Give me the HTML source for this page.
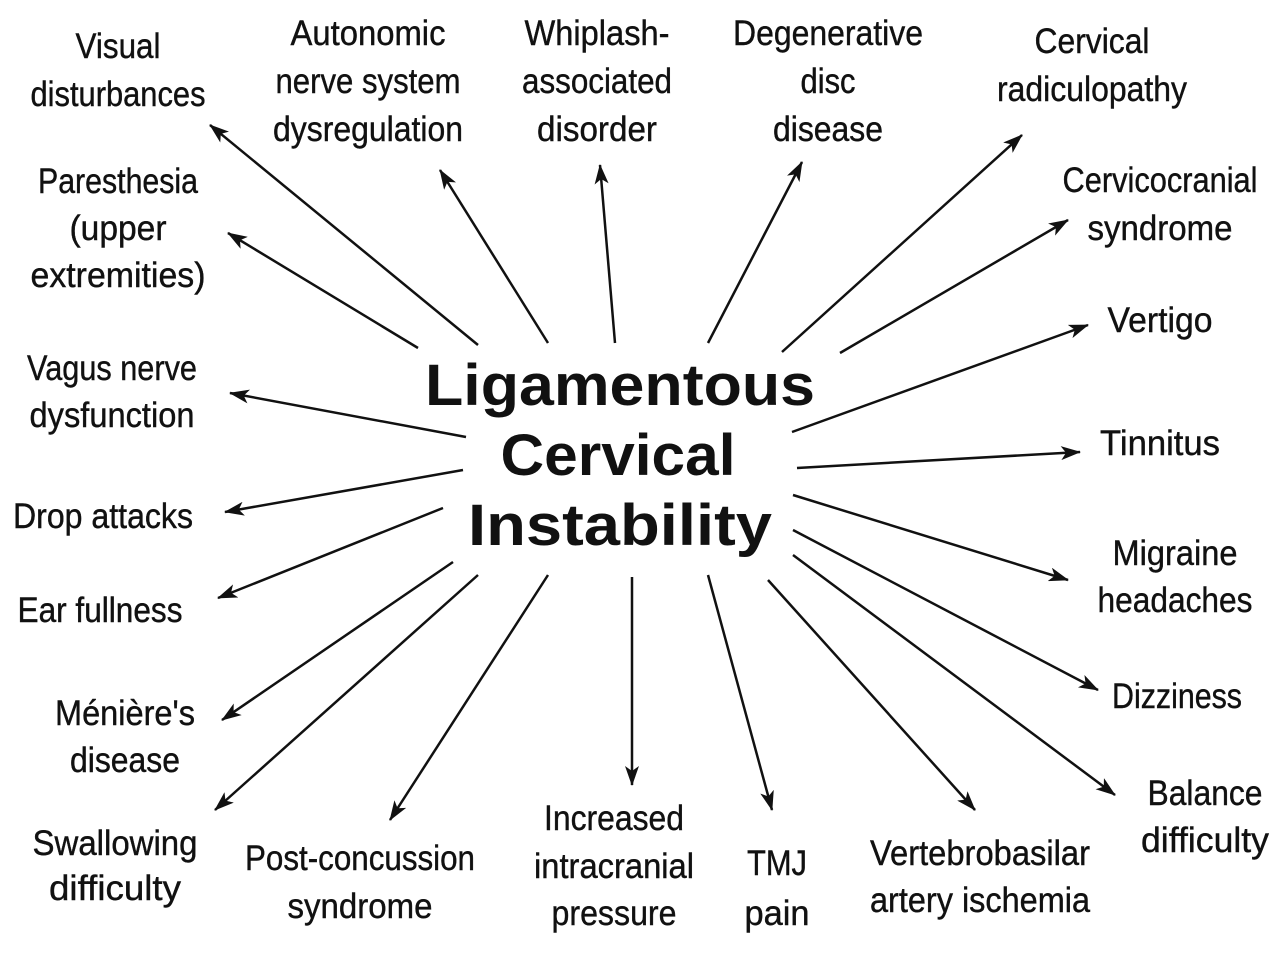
<!DOCTYPE html>
<html><head><meta charset="utf-8"><style>
html,body{margin:0;padding:0;background:#fff;}
svg text{font-family:"Liberation Sans Narrow","Liberation Sans",sans-serif;font-size:35px;fill:#111;stroke:#111;stroke-width:0.4px;}
svg text.t{font-family:"Liberation Sans",sans-serif;font-weight:bold;font-size:58px;stroke:none;}
</style></head><body>
<svg width="1280" height="951" viewBox="0 0 1280 951" xmlns="http://www.w3.org/2000/svg">
<defs>
<marker id="b" viewBox="0 0 20 14" refX="19" refY="7" markerWidth="20" markerHeight="14" markerUnits="userSpaceOnUse" orient="auto"><path d="M0,0 L20,7 L0,14 L5,7 z" fill="#111"/></marker></defs>
<g stroke="#111" stroke-width="2.5" marker-end="url(#b)">
<line x1="478" y1="345" x2="210" y2="125"/>
<line x1="418" y1="348" x2="228" y2="233"/>
<line x1="548" y1="343" x2="440" y2="170"/>
<line x1="615" y1="343" x2="600" y2="165"/>
<line x1="708" y1="343" x2="802" y2="162"/>
<line x1="782" y1="352" x2="1022" y2="135"/>
<line x1="840" y1="353" x2="1068" y2="220"/>
<line x1="792" y1="432" x2="1088" y2="325"/>
<line x1="797" y1="468" x2="1080" y2="452"/>
<line x1="793" y1="495" x2="1068" y2="580"/>
<line x1="793" y1="530" x2="1098" y2="690"/>
<line x1="793" y1="555" x2="1115" y2="795"/>
<line x1="768" y1="580" x2="975" y2="810"/>
<line x1="708" y1="575" x2="772" y2="810"/>
<line x1="632" y1="577" x2="632" y2="785"/>
<line x1="548" y1="575" x2="390" y2="820"/>
<line x1="478" y1="575" x2="215" y2="810"/>
<line x1="453" y1="562" x2="222" y2="720"/>
<line x1="443" y1="508" x2="218" y2="598"/>
<line x1="463" y1="470" x2="225" y2="512"/>
<line x1="466" y1="437" x2="230" y2="393"/>
</g>
<g text-anchor="middle">
<text class="t" x="620" y="405" textLength="390" lengthAdjust="spacingAndGlyphs">Ligamentous</text>
<text class="t" x="618" y="475" textLength="235" lengthAdjust="spacingAndGlyphs">Cervical</text>
<text class="t" x="620" y="545" textLength="304" lengthAdjust="spacingAndGlyphs">Instability</text>

<text x="118" y="58" textLength="85" lengthAdjust="spacingAndGlyphs">Visual</text>
<text x="118" y="106" textLength="175" lengthAdjust="spacingAndGlyphs">disturbances</text>
<text x="368" y="45" textLength="155" lengthAdjust="spacingAndGlyphs">Autonomic</text>
<text x="368" y="93" textLength="185" lengthAdjust="spacingAndGlyphs">nerve system</text>
<text x="368" y="141" textLength="190" lengthAdjust="spacingAndGlyphs">dysregulation</text>
<text x="597" y="45" textLength="145" lengthAdjust="spacingAndGlyphs">Whiplash-</text>
<text x="597" y="93" textLength="150" lengthAdjust="spacingAndGlyphs">associated</text>
<text x="597" y="141" textLength="120" lengthAdjust="spacingAndGlyphs">disorder</text>
<text x="828" y="45" textLength="190" lengthAdjust="spacingAndGlyphs">Degenerative</text>
<text x="828" y="93" textLength="55" lengthAdjust="spacingAndGlyphs">disc</text>
<text x="828" y="141" textLength="110" lengthAdjust="spacingAndGlyphs">disease</text>
<text x="1092" y="53" textLength="115" lengthAdjust="spacingAndGlyphs">Cervical</text>
<text x="1092" y="101" textLength="190" lengthAdjust="spacingAndGlyphs">radiculopathy</text>
<text x="1160" y="192" textLength="195" lengthAdjust="spacingAndGlyphs">Cervicocranial</text>
<text x="1160" y="240" textLength="145" lengthAdjust="spacingAndGlyphs">syndrome</text>
<text x="1160" y="332" textLength="105" lengthAdjust="spacingAndGlyphs">Vertigo</text>
<text x="1160" y="455" textLength="120" lengthAdjust="spacingAndGlyphs">Tinnitus</text>
<text x="1175" y="565" textLength="125" lengthAdjust="spacingAndGlyphs">Migraine</text>
<text x="1175" y="612" textLength="155" lengthAdjust="spacingAndGlyphs">headaches</text>
<text x="1177" y="708" textLength="130" lengthAdjust="spacingAndGlyphs">Dizziness</text>
<text x="1205" y="805" textLength="115" lengthAdjust="spacingAndGlyphs">Balance</text>
<text x="1205" y="852" textLength="128" lengthAdjust="spacingAndGlyphs">difficulty</text>
<text x="980" y="865" textLength="220" lengthAdjust="spacingAndGlyphs">Vertebrobasilar</text>
<text x="980" y="912" textLength="220" lengthAdjust="spacingAndGlyphs">artery ischemia</text>
<text x="777" y="875" textLength="60" lengthAdjust="spacingAndGlyphs">TMJ</text>
<text x="777" y="925" textLength="65" lengthAdjust="spacingAndGlyphs">pain</text>
<text x="614" y="830" textLength="140" lengthAdjust="spacingAndGlyphs">Increased</text>
<text x="614" y="878" textLength="160" lengthAdjust="spacingAndGlyphs">intracranial</text>
<text x="614" y="925" textLength="125" lengthAdjust="spacingAndGlyphs">pressure</text>
<text x="360" y="870" textLength="230" lengthAdjust="spacingAndGlyphs">Post-concussion</text>
<text x="360" y="918" textLength="145" lengthAdjust="spacingAndGlyphs">syndrome</text>
<text x="115" y="855" textLength="165" lengthAdjust="spacingAndGlyphs">Swallowing</text>
<text x="115" y="900" textLength="132" lengthAdjust="spacingAndGlyphs">difficulty</text>
<text x="125" y="725" textLength="140" lengthAdjust="spacingAndGlyphs">Ménière's</text>
<text x="125" y="772" textLength="110" lengthAdjust="spacingAndGlyphs">disease</text>
<text x="100" y="622" textLength="165" lengthAdjust="spacingAndGlyphs">Ear fullness</text>
<text x="103" y="528" textLength="180" lengthAdjust="spacingAndGlyphs">Drop attacks</text>
<text x="112" y="380" textLength="170" lengthAdjust="spacingAndGlyphs">Vagus nerve</text>
<text x="112" y="427" textLength="165" lengthAdjust="spacingAndGlyphs">dysfunction</text>
<text x="118" y="193" textLength="160" lengthAdjust="spacingAndGlyphs">Paresthesia</text>
<text x="118" y="240" textLength="97" lengthAdjust="spacingAndGlyphs">(upper</text>
<text x="118" y="287" textLength="175" lengthAdjust="spacingAndGlyphs">extremities)</text>
</g>
</svg>
</body></html>
